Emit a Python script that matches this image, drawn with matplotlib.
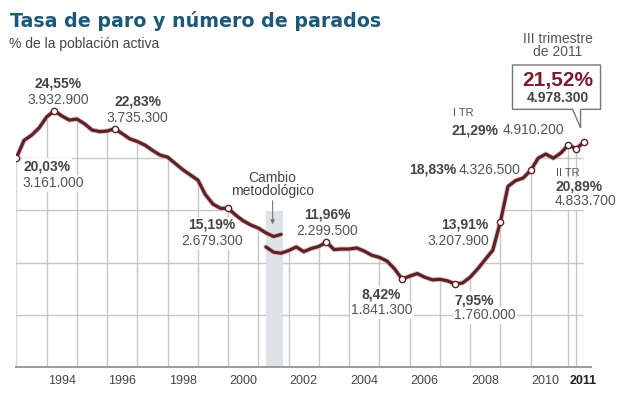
import numpy as np
import pandas as pd
import matplotlib
matplotlib.use('Agg')
import matplotlib.pyplot as plt
from matplotlib.patches import Polygon
import matplotlib.patheffects as pe

plt.rcParams['font.family'] = ['Liberation Sans', 'DejaVu Sans']

#### data (tasa de paro EPA, %)
old_start, old_end = '1992Q4', '2001Q3'   # metodología antigua
old_rate = [20.03,
            21.7, 22.2, 22.9, 23.95,
            24.55, 24.05, 23.65, 23.75,
            23.3, 22.7, 22.55, 22.6,
            22.83, 22.35, 21.85, 21.6,
            21.25, 20.75, 20.3, 20.1,
            19.5, 18.9, 18.4, 17.9,
            16.5, 15.6, 15.2, 15.19,
            14.55, 14.0, 13.6, 13.3,
            12.85, 12.5, 12.7]

new_start, new_end = '2001Q1', '2011Q3'   # metodología nueva
new_rate = [11.5, 11.0, 10.9, 11.15,
            11.5, 11.05, 11.35, 11.55,
            11.96, 11.25, 11.3, 11.3,
            11.4, 11.1, 10.7, 10.5,
            10.15, 9.4, 8.42, 8.7,
            8.95, 8.6, 8.35, 8.4,
            8.25, 7.95, 8.05, 8.6,
            9.4, 10.3, 11.2, 13.91,
            17.3, 17.85, 18.1, 18.83,
            20.0, 20.4, 20.0, 20.5,
            21.29, 20.89, 21.52]

old_marked = ['1992Q4', '1994Q1', '1996Q1', '1999Q4']
new_marked = ['2003Q1', '2005Q3', '2007Q2', '2008Q4', '2009Q4', '2011Q1', '2011Q2', '2011Q3']

year_labels = ['1994', '1996', '1998', '2000', '2002', '2004', '2006', '2008', '2010']

# (text, x, y, bold, ha)
annotations = [
    ('24,55%', 1994.375, 26.79, True, 'center'),
    ('3.932.900', 1994.375, 25.19, False, 'center'),
    ('22,83%', 1997.02, 25.07, True, 'center'),
    ('3.735.300', 1997.01, 23.5, False, 'center'),
    ('20,03%', 1993.23, 18.8, True, 'left'),
    ('3.161.000', 1993.21, 17.21, False, 'left'),
    ('15,19%', 1999.47, 13.22, True, 'center'),
    ('2.679.300', 1999.46, 11.66, False, 'center'),
    ('11,96%', 2003.28, 14.2, True, 'center'),
    ('2.299.500', 2003.27, 12.67, False, 'center'),
    ('8,42%', 2005.05, 6.58, True, 'center'),
    ('1.841.300', 2005.09, 5.05, False, 'center'),
    ('7,95%', 2007.47, 6.0, True, 'left'),
    ('1.760.000', 2007.47, 4.57, False, 'left'),
    ('13,91%', 2008.60, 13.28, True, 'right'),
    ('3.207.900', 2008.63, 11.69, False, 'right'),
    ('18,83%', 2005.98, 18.49, True, 'left'),
    ('4.326.500', 2007.61, 18.49, False, 'left'),
    ('21,29%', 2007.39, 22.29, True, 'left'),
    ('4.910.200', 2009.06, 22.29, False, 'left'),
    ('20,89%', 2010.83, 16.89, True, 'left'),
    ('4.833.700', 2010.78, 15.49, False, 'left'),
]


def qx(periods):
    # quarter end as decimal year
    return np.array([p.year + p.quarter * 0.25 for p in periods])


old_q = pd.period_range(old_start, old_end, freq='Q')
new_q = pd.period_range(new_start, new_end, freq='Q')
old_x, new_x = qx(old_q), qx(new_q)
old_y, new_y = np.array(old_rate), np.array(new_rate)

LINE = '#5e2128'
GRID = '#c6c6c6'

fig = plt.figure(figsize=(6.2, 3.96), dpi=100)
ax = fig.add_axes([16.4 / 620, (396 - 367) / 396, 574.75 / 620, 313.2 / 396])
ax.set_xlim(1993, 2012)
ax.set_ylim(0, 30)
for s in ['top', 'right', 'left']:
    ax.spines[s].set_visible(False)
ax.spines['bottom'].set_color('#9c9c9c')
ax.spines['bottom'].set_linewidth(1.4)
ax.set_yticks([])

#### grid only under the curve
keep = old_x < new_x[0]
cx = np.concatenate([old_x[keep], new_x])
cy = np.concatenate([old_y[keep], new_y])
clip = Polygon(np.column_stack([np.r_[cx[0], cx, cx[-1]], np.r_[0, cy, 0]]),
               closed=True, fc='none', ec='none', transform=ax.transData)
ax.add_patch(clip)

grid_x = list(range(1993, 2011)) + list(new_x[-3:])
for gx in grid_x:
    ln, = ax.plot([gx, gx], [0, 30], color=GRID, lw=1.0, zorder=1)
    ln.set_clip_path(clip)
for gy in [5, 10, 15, 20, 25]:
    ln, = ax.plot([1993, 2012], [gy, gy], color=GRID, lw=1.0, zorder=1)
    ln.set_clip_path(clip)

#### cambio metodologico
ax.fill_between([2001.24, 2001.80], 0, 14.9, color='#dde3e6', lw=0, zorder=1.5)
ax.annotate('', xy=(2001.47, 13.4), xytext=(2001.47, 16.2),
            arrowprops=dict(arrowstyle='-|>', color='#777777', lw=0.8, mutation_scale=6),
            zorder=2)
ax.text(2001.47, 17.75, 'Cambio', ha='center', va='baseline', fontsize=10, color='#444444')
ax.text(2001.47, 16.48, 'metodológico', ha='center', va='baseline', fontsize=10, color='#444444')

#### curves
halo = [pe.Stroke(linewidth=3.6, foreground='#dcbcbf'), pe.Normal()]
for x, y in [(old_x, old_y), (new_x, new_y)]:
    ax.plot(x, y, color=LINE, lw=2.3, zorder=3, solid_joinstyle='round',
            solid_capstyle='round', path_effects=halo)

old_sel = [list(old_q.astype(str)).index(q) for q in old_marked]
new_sel = [list(new_q.astype(str)).index(q) for q in new_marked]
ax.plot(old_x[old_sel], old_y[old_sel], 'o', ms=4.5, mfc='white', mec=LINE, mew=1.0, zorder=4)
ax.plot(new_x[new_sel], new_y[new_sel], 'o', ms=4.5, mfc='white', mec=LINE, mew=1.0, zorder=4)

#### labels
for txt, x, y, bold, ha in annotations:
    ax.text(x, y, txt, ha=ha, va='baseline', fontsize=10,
            fontweight='bold' if bold else 'normal',
            color='#444444' if bold else '#555555', zorder=2.5,
            bbox=dict(fc='white', ec='none', pad=1.0))
ax.text(2007.42, 24.04, 'I TR', ha='left', va='baseline', fontsize=8, color='#555555')
ax.text(2010.83, 18.3, 'II TR', ha='left', va='baseline', fontsize=8, color='#555555')
ax.text(2010.9, 31.06, 'III trimestre', ha='center', va='baseline', fontsize=10, color='#555555')
ax.text(2010.9, 29.79, 'de 2011', ha='center', va='baseline', fontsize=10, color='#555555')

# callout box for the last quarter
tip = new_x[-1] - 0.1
box = Polygon([(2009.40, 28.93), (2012.31, 28.93), (2012.31, 24.68), (tip, 24.68),
               (tip, 22.9), (tip - 0.26, 24.68), (2009.40, 24.68)],
              closed=True, fc='white', ec='#777777', lw=1.0, zorder=5, clip_on=False)
ax.add_patch(box)
ax.text(2010.9, 26.92, '21,52%', ha='center', va='baseline', fontsize=15,
        fontweight='bold', color='#7b1c2c', zorder=6)
ax.text(2010.9, 25.41, '4.978.300', ha='center', va='baseline', fontsize=10,
        fontweight='bold', color='#444444', zorder=6)

#### x axis
ticks = [int(y) + 0.5 for y in year_labels] + [new_x[-1] - 0.02]
ax.set_xticks(ticks, year_labels + ['2011'])
ax.tick_params(axis='x', length=0, pad=6, labelsize=9, labelcolor='#444444')
ax.get_xticklabels()[-1].set_fontweight('bold')
ax.get_xticklabels()[-1].set_color('#222222')

#### titles
fig.text(9.5 / 620, 1 - 26.7 / 396, 'Tasa de paro y número de parados', fontsize=13.7,
         fontweight='bold', family='DejaVu Sans', color='#1f5876', va='baseline')
fig.text(9.3 / 620, 1 - 48.3 / 396, '% de la población activa', fontsize=10,
         color='#444444', va='baseline')

fig.savefig('out.png', dpi=100, facecolor='white')
